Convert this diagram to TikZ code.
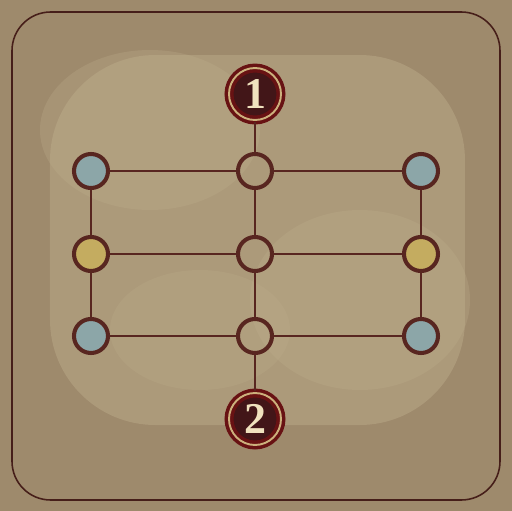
\documentclass[tikz,border=0pt]{standalone}
\usepackage{fontspec}
\setmainfont{Liberation Serif}

\definecolor{parch}{RGB}{158,138,108}
\definecolor{parchlight}{RGB}{190,174,140}
\definecolor{ink}{RGB}{88,38,32}
\definecolor{maroon}{RGB}{66,22,24}
\definecolor{brass}{RGB}{204,176,124}
\definecolor{slate}{RGB}{140,166,168}
\definecolor{ochre}{RGB}{196,172,96}
\definecolor{cream}{RGB}{240,226,190}

\begin{document}
\begin{tikzpicture}[x=0.02cm,y=-0.02cm]
\tikzset{Spot/.style = 
	{shape = circle,
		minimum size = 34*0.02cm,
		inner sep = 0pt,
		line width = 2.3pt,
		draw = ink},
	Blue/.style = {Spot, fill = slate},
	Gold/.style = {Spot, fill = ochre},
	Badge/.style = 
	{shape = circle,
		minimum size = 52*0.02cm,
		inner sep = 0pt,
		fill = maroon,
		draw = maroon!80!red,
		line width = 2pt,
		double = brass,
		double distance = 1.1pt,
		text = cream,
		font = \fontsize{25}{25}\selectfont\bfseries},
	Track/.style = {draw = ink, line width = 1.7pt}}

% background
\fill[parch] (0,0) rectangle (512,511);
\useasboundingbox (0,0) rectangle (512,511);
\fill[parchlight, opacity=0.45, rounded corners=60] (50,55) rectangle (465,425);
\fill[parchlight, opacity=0.3] (150,130) ellipse (110 and 80);
\fill[parchlight, opacity=0.3] (360,300) ellipse (110 and 90);
\fill[parchlight, opacity=0.25] (200,330) ellipse (90 and 60);
\draw[ink!80!black, line width=0.9pt, rounded corners=22] (12,12) rectangle (500,500);

\node[Badge] (One) at (255,94) {1};
\node[Badge] (Two) at (255,419) {2};

\node[Blue] (LT) at (91,171) {};
\node[Spot] (CT) at (255,171) {};
\node[Blue] (RT) at (421,171) {};
\node[Gold] (LM) at (91,254) {};
\node[Spot] (CM) at (255,254) {};
\node[Gold] (RM) at (421,254) {};
\node[Blue] (LB) at (91,336) {};
\node[Spot] (CB) at (255,336) {};
\node[Blue] (RB) at (421,336) {};

\path[Track] (One) -- (CT);
\path[Track] (CB) -- (Two);
\foreach \a/\b in {LT/CT,CT/RT,LM/CM,CM/RM,LB/CB,CB/RB,
	LT/LM,LM/LB,CT/CM,CM/CB,RT/RM,RM/RB}
	\path[Track] (\a) -- (\b);
\end{tikzpicture}
\end{document}
